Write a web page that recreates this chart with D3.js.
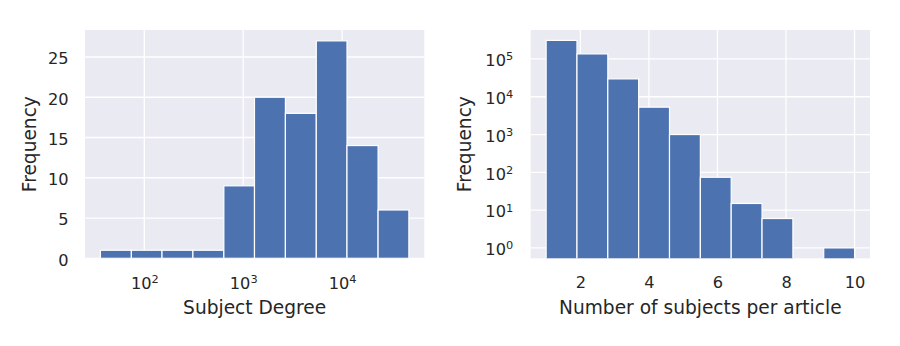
<!DOCTYPE html>
<html>
<head>
<meta charset="utf-8">
<script src="https://cdn.jsdelivr.net/npm/d3@7"></script>
<style>
body { margin: 0; background: #fff; }
text { font-family: "DejaVu Sans", sans-serif; fill: #262626; }
</style>
</head>
<body>
<script>
// histogram 1: subject degree (log bins)
var degreeBins = [36, 74, 151, 310, 637, 1300, 2670, 5480, 11200, 23100, 47300];
var degreeFreq = [1, 1, 1, 1, 9, 20, 18, 27, 14, 6];
var degreeTicks = [100, 1000, 10000];
var degreeFreqTicks = [0, 5, 10, 15, 20, 25];

// histogram 2: subjects per article (log counts)
var subjectBins = [1, 1.9, 2.8, 3.7, 4.6, 5.5, 6.4, 7.3, 8.2, 9.1, 10];
var subjectFreq = [310000, 136000, 29700, 5300, 1000, 74, 15, 6, 0, 1];
var subjectTicks = [2, 4, 6, 8, 10];
var subjectFreqTicks = [1, 10, 100, 1000, 10000, 100000];

var W = 900, H = 346;
var plotTop = 30, plotBottom = 258.3;
var h = plotBottom - plotTop;
var tickFont = 16.2, labelFont = 18.6;

var svg = d3.select("body").append("svg")
    .attr("width", W)
    .attr("height", H);

function padLog(a, b) {
    var la = Math.log10(a), lb = Math.log10(b), m = (lb - la) * 0.05;
    return [Math.pow(10, la - m), Math.pow(10, lb + m)];
}

function padLin(a, b) {
    var m = (b - a) * 0.05;
    return [a - m, b + m];
}

// "10" with a raised exponent, like matplotlib's log labels
function powerLabel(sel) {
    sel.each(function(d) {
        var t = d3.select(this).text("");
        t.append("tspan").text("10");
        t.append("tspan")
            .attr("font-size", "0.7em")
            .attr("dy", "-0.52em")
            .text(Math.round(Math.log10(d)));
    });
}

function panel(left, right, id) {
    var w = right - left;
    var g = svg.append("g").attr("transform", "translate(" + left + "," + plotTop + ")");
    g.append("rect").attr("width", w).attr("height", h).attr("fill", "#eaeaf2");
    g.append("clipPath").attr("id", id)
        .append("rect").attr("width", w).attr("height", h);
    return {g: g, w: w};
}

function grid(p, x, y, xt, yt) {
    p.g.append("g").selectAll("line").data(xt).enter().append("line")
        .attr("x1", function(d) { return x(d); })
        .attr("x2", function(d) { return x(d); })
        .attr("y1", 0).attr("y2", h)
        .attr("stroke", "#fff").attr("stroke-width", 1.3);
    p.g.append("g").selectAll("line").data(yt).enter().append("line")
        .attr("y1", function(d) { return y(d); })
        .attr("y2", function(d) { return y(d); })
        .attr("x1", 0).attr("x2", p.w)
        .attr("stroke", "#fff").attr("stroke-width", 1.3);
}

function axes(p, x, y, xt, yt, xLog, yLog, xlabel, ylabelX) {
    var xa = p.g.append("g")
        .attr("transform", "translate(0," + h + ")")
        .call(d3.axisBottom(x).tickValues(xt).tickSize(0).tickPadding(xLog ? 19.5 : 18.2)
            .tickFormat(function(d) { return d; }));
    var ya = p.g.append("g")
        .call(d3.axisLeft(y).tickValues(yt).tickSize(0).tickPadding(yLog ? 17.5 : 16.5)
            .tickFormat(function(d) { return d; }));
    [xa, ya].forEach(function(a) {
        a.select(".domain").remove();
        a.selectAll("text").attr("font-size", tickFont).attr("fill", "#262626")
            .attr("font-family", "DejaVu Sans");
    });
    ya.selectAll("text").attr("dy", "0.42em");
    if (xLog) xa.selectAll("text").call(powerLabel);
    if (yLog) ya.selectAll("text").call(powerLabel);

    p.g.append("text")
        .attr("x", p.w / 2).attr("y", 314 - plotTop)
        .attr("text-anchor", "middle")
        .attr("font-size", labelFont)
        .text(xlabel);
    p.g.append("text")
        .attr("transform", "translate(" + ylabelX + "," + (h / 2) + ") rotate(-90)")
        .attr("text-anchor", "middle")
        .attr("font-size", labelFont)
        .text("Frequency");
}

// left panel
var p1 = panel(85, 424.3, "clip1");
var x1 = d3.scaleLog()
    .domain(padLog(degreeBins[0], degreeBins[degreeBins.length - 1]))
    .range([0, p1.w]);
var y1 = d3.scaleLinear()
    .domain([0, d3.max(degreeFreq) * 1.05])
    .range([h, 0]);
grid(p1, x1, y1, degreeTicks, degreeFreqTicks);
p1.g.append("g").attr("clip-path", "url(#clip1)")
    .selectAll("rect").data(degreeFreq).enter().append("rect")
    .attr("x", function(d, i) { return x1(degreeBins[i]); })
    .attr("width", function(d, i) { return x1(degreeBins[i + 1]) - x1(degreeBins[i]); })
    .attr("y", function(d) { return y1(d); })
    .attr("height", function(d) { return y1(0) - y1(d); })
    .attr("fill", "#4c72b0")
    .attr("stroke", "#fff")
    .attr("stroke-width", 1.2);
axes(p1, x1, y1, degreeTicks, degreeFreqTicks, true, false, "Subject Degree", -49.5);

// right panel
var p2 = panel(530.7, 870, "clip2");
var x2 = d3.scaleLinear()
    .domain(padLin(subjectBins[0], subjectBins[subjectBins.length - 1]))
    .range([0, p2.w]);
var y2 = d3.scaleLog()
    .domain(padLog(d3.min(subjectFreq.filter(function(d) { return d > 0; })), d3.max(subjectFreq)))
    .range([h, 0]);
grid(p2, x2, y2, subjectTicks, subjectFreqTicks);
p2.g.append("g").attr("clip-path", "url(#clip2)")
    .selectAll("rect").data(subjectFreq.map(function(d, i) { return {v: d, i: i}; })
        .filter(function(d) { return d.v > 0; }))
    .enter().append("rect")
    .attr("x", function(d) { return x2(subjectBins[d.i]); })
    .attr("width", function(d) { return x2(subjectBins[d.i + 1]) - x2(subjectBins[d.i]); })
    .attr("y", function(d) { return y2(d.v); })
    .attr("height", function(d) { return h - y2(d.v) + 5; })
    .attr("fill", "#4c72b0")
    .attr("stroke", "#fff")
    .attr("stroke-width", 1.2);
axes(p2, x2, y2, subjectTicks, subjectFreqTicks, false, true, "Number of subjects per article", -59.7);
</script>
</body>
</html>
